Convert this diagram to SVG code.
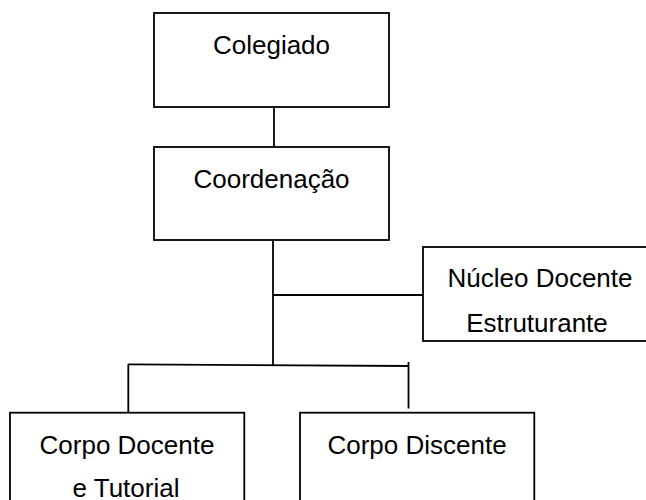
<svg xmlns="http://www.w3.org/2000/svg" width="646" height="500" viewBox="0 0 646 500">
<style>
rect{fill:#fff;stroke:#000;stroke-width:1.8}
line{stroke:#000;stroke-width:1.8}
text{font-family:"Liberation Sans",Arial,sans-serif;font-size:26px;fill:#000;text-anchor:middle}
</style>
<rect x="0" y="0" width="646" height="500" style="stroke:none"/>
<g id="connectors">
<line x1="274" y1="107" x2="274" y2="147"/>
<line x1="273" y1="240" x2="273" y2="365"/>
<line x1="273" y1="295" x2="423" y2="295"/>
<line x1="128" y1="364.3" x2="409" y2="366"/>
<line x1="128.3" y1="364.3" x2="128.3" y2="412"/>
<line x1="408.5" y1="362" x2="408.5" y2="408.5"/>
</g>
<g id="colegiado">
<rect x="154" y="13" width="235" height="94"/>
<text x="271.5" y="54">Colegiado</text>
</g>
<g id="coordenacao">
<rect x="154" y="147" width="235" height="93"/>
<text x="271.5" y="188">Coordenação</text>
</g>
<g id="nucleo">
<rect x="423" y="247" width="240" height="94"/>
<text x="540" y="287">Núcleo Docente</text>
<text x="537" y="332">Estruturante</text>
</g>
<g id="corpo-docente">
<rect x="10" y="412.7" width="234.3" height="100"/>
<text x="127" y="453.5">Corpo Docente</text>
<text x="126" y="497">e Tutorial</text>
</g>
<g id="corpo-discente">
<rect x="300" y="412.7" width="234.3" height="100"/>
<text x="417" y="454">Corpo Discente</text>
</g>
</svg>
